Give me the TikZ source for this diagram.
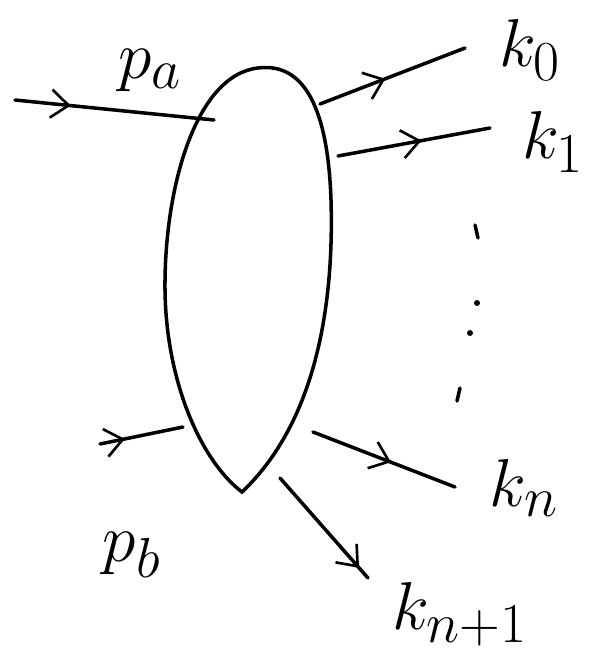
\documentclass[tikz,border=0pt]{standalone}
\usepackage{graphicx}
\usetikzlibrary{arrows.meta,decorations.markings}

\newcommand{\mom}[1]{\scalebox{1.55}{$#1$}}

\tikzset{
  leg/.style={line width=2pt, line cap=round},
  midarrow/.style={leg, postaction={decorate},
    decoration={markings, mark=at position #1 with {\arrow[line width=1.5pt]{Straight Barb[length=10pt,width=16pt]}}}},
  momlabel/.style={inner sep=0pt, font=\Huge}
}

\begin{document}
\begin{tikzpicture}[x=0.02cm, y=-0.02cm]
\useasboundingbox (0,0) rectangle (596,667);

% Blob
\draw[line width=2pt]
  (258,68) .. controls (305,62) and (328,110) .. (331,200)
  .. controls (334,300) and (318,420) .. (242,492)
  .. controls (200,460) and (166,380) .. (165,290)
  .. controls (164,190) and (195,75) .. (258,68);

% Punti sul bordo e estremi liberi
\coordinate (bpa) at (214,120);
\coordinate (bk0) at (320,104);
\coordinate (bk1) at (338,156);
\coordinate (bpb) at (183,427);
\coordinate (bkn) at (313,432);
\coordinate (bkm) at (280,478);

\coordinate (epa) at (15,100);
\coordinate (ek0) at (465,48);
\coordinate (ek1) at (490,128);
\coordinate (epb) at (100,444);
\coordinate (ekn) at (455,487);
\coordinate (ekm) at (368,578);

% Gambe esterne
\draw[midarrow=0.28] (epa) -- (bpa);
\draw[midarrow=0.3] (epb) -- (bpb);
\draw[midarrow=0.45] (bk0) -- (ek0);
\draw[midarrow=0.55] (bk1) -- (ek1);
\draw[midarrow=0.55] (bkn) -- (ekn);
\draw[midarrow=0.9] (bkm) -- (ekm);

% Etichette
\node[momlabel] (pa) at (150,70) {\mom{p_a}};
\node[momlabel] (k0) at (530,50) {\mom{k_0}};
\node[momlabel] (k1) at (553,142) {\mom{k_1}};
\node[momlabel] (kn) at (524,488) {\mom{k_n}};
\node[momlabel] (km) at (460,614) {\mom{k_{n+1}}};
\node[momlabel] (pb) at (132,555) {\mom{p_b}};

% Puntini
\draw[leg] (475,225) -- (478,238);
\fill (477,303) circle (3);
\fill (470,333) circle (3);
\draw[leg] (460,388) -- (457,401);
\end{tikzpicture}
\end{document}
